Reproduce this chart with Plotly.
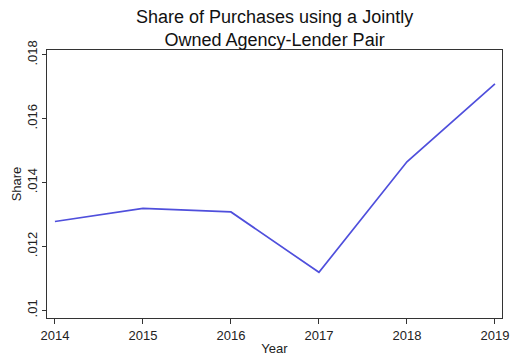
import plotly.graph_objects as go

years = [2014, 2015, 2016, 2017, 2018, 2019]
share = [0.01278, 0.01319, 0.01308, 0.01119, 0.01465, 0.01709]
y_ticks = [0.010, 0.012, 0.014, 0.016, 0.018]
y_tick_labels = [".01", ".012", ".014", ".016", ".018"]

fig = go.Figure()
fig.add_trace(go.Scatter(x=years, y=share, mode="lines",
                         line=dict(color="#4f4fdc", width=1.7), showlegend=False))

font = "Liberation Sans, Arial, sans-serif"
plot_h = 362 - 50 - 35
fig.update_layout(
    width=517, height=362,
    margin=dict(l=47, r=8, t=50, b=35),
    paper_bgcolor="white", plot_bgcolor="white",
    font=dict(family=font, color="#222222", size=13),
)
fig.add_annotation(text="Share of Purchases using a Jointly<br>Owned Agency-Lender Pair",
                   xref="paper", yref="paper", x=0.5, y=1 + 47 / plot_h,
                   xanchor="center", yanchor="top", showarrow=False,
                   font=dict(size=18, color="#111111"))
fig.update_xaxes(range=[2013.91, 2019.08], tickvals=years, ticktext=[str(y) for y in years],
                 showline=True, linecolor="#333333", linewidth=1, mirror=True,
                 ticks="outside", ticklen=5, tickcolor="#333333", showgrid=False, zeroline=False,
                 title=dict(text="Year", standoff=2, font=dict(size=13)),
                 tickfont=dict(size=13))
fig.update_yaxes(range=[0.00976, 0.01815], tickvals=y_ticks, ticktext=y_tick_labels, tickangle=-90,
                 showline=True, linecolor="#333333", linewidth=1, mirror=True,
                 ticks="outside", ticklen=4, tickcolor="#333333", showgrid=False, zeroline=False,
                 title=dict(text="Share", standoff=0, font=dict(size=13)),
                 tickfont=dict(size=13))
fig.write_html("out.html")
